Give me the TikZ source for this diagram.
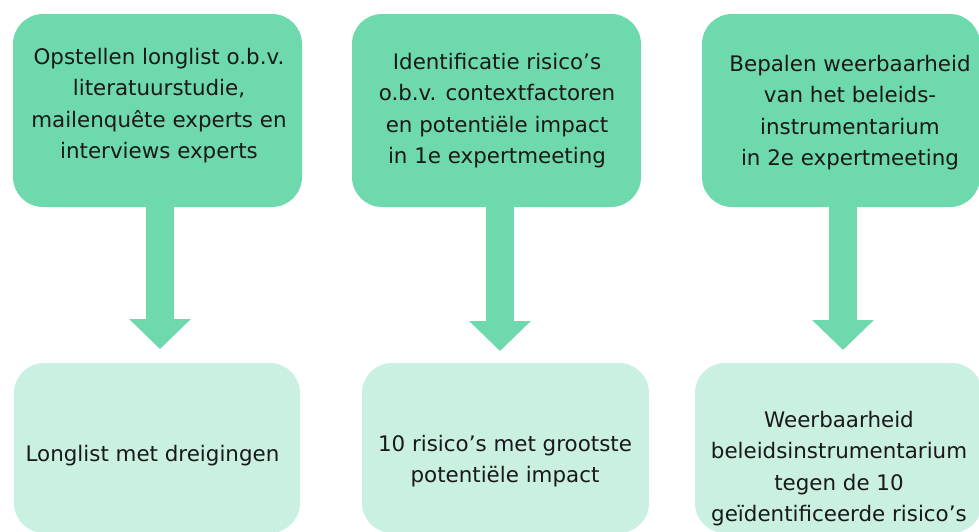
\documentclass[tikz,border=0pt]{standalone}
\usepackage{fontspec}
\setmainfont{DejaVu Sans}
\usetikzlibrary{arrows.meta}
\definecolor{topgreen}{RGB}{111,217,174}
\definecolor{botgreen}{RGB}{201,240,225}
\begin{document}
\begin{tikzpicture}[x=1pt,y=-1pt,
  topbox/.style={fill=topgreen,rounded corners=30pt},
  botbox/.style={fill=botgreen,rounded corners=30pt},
  txt/.style={inner sep=0pt,align=center,font=\fontsize{21.4}{31.5}\selectfont,text=black!90},
  flow/.style={draw=topgreen,line width=28pt,-{Triangle[width=60pt,length=30pt]}}]
\useasboundingbox (0,0) rectangle (979,531);
\begin{scope}
\clip (0,0) rectangle (979,531);
% top boxes
\path[topbox] (13,14) rectangle (302,207);
\path[topbox] (352,14) rectangle (641,207);
\path[topbox] (702,14) rectangle (980,207);
% bottom boxes
\path[botbox] (14,363) rectangle (300,533);
\path[botbox] (362,363) rectangle (649,533);
\path[botbox] (695,363) rectangle (982,533);
\end{scope}
\node[txt] (ta1) at (159,105.5) {Opstellen longlist o.b.v.\\literatuurstudie,\\mailenquête experts en\\interviews experts};
\node[txt] (ta2) at (497,110.5) {Identificatie risico’s\\o.b.v. contextfactoren\\en potentiële impact\\in 1e expertmeeting};
\node[txt] (ta3) at (850,112.5) {Bepalen weerbaarheid\\van het beleids-\\instrumentarium\\in 2e expertmeeting};
\node[txt] (tb1) at (152.5,456) {Longlist met dreigingen};
\node[txt] (tb2) at (505,461) {10 risico’s met grootste\\potentiële impact};
\node[txt] (tb3) at (839,468.5) {Weerbaarheid\\beleidsinstrumentarium\\tegen de 10\\geïdentificeerde risico’s};
% arrows
\coordinate (s1) at (160,207);
\coordinate (e1) at (160,349);
\coordinate (s2) at (500,207);
\coordinate (e2) at (500,351);
\coordinate (s3) at (843,207);
\coordinate (e3) at (843,350);
\draw[flow] (s1) -- (e1);
\draw[flow] (s2) -- (e2);
\draw[flow] (s3) -- (e3);
\end{tikzpicture}
\end{document}
